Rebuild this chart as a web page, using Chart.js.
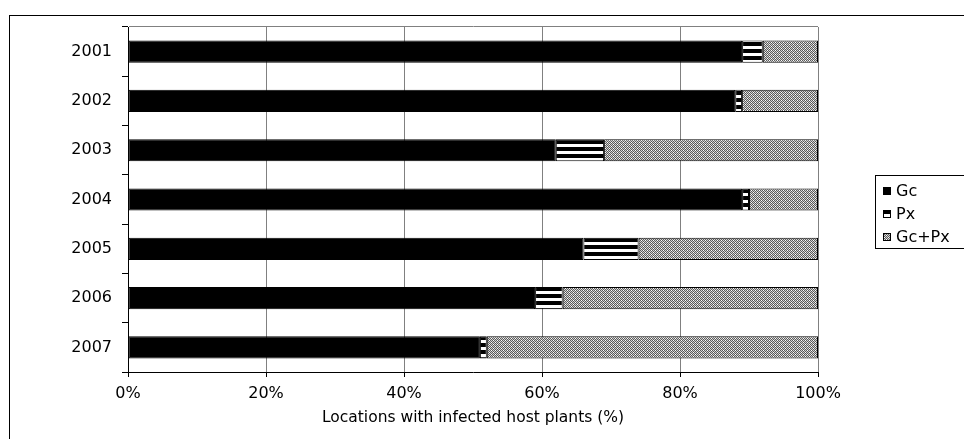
<!DOCTYPE html>
<html>
<head>
<meta charset="utf-8">
<title>Locations with infected host plants</title>
<script src="https://cdn.jsdelivr.net/npm/chart.js@4/dist/chart.umd.min.js"></script>
<style>
	html, body { margin: 0; padding: 0; background: #fff; overflow: hidden; }
	#wrap { position: relative; width: 964px; height: 439px; overflow: hidden; }
	#frame { position: absolute; left: 9px; top: 15px; width: 970px; height: 440px; border-left: 1px solid #000; border-top: 1px solid #000; }
	#chart { position: absolute; left: 0; top: 0; }
	#legend { position: absolute; left: 875px; top: 175px; width: 110px; height: 72px; border: 1px solid #000; background: #fff; margin: 0; padding: 0; list-style: none; }
	#legend li { position: absolute; left: 7px; height: 23px; line-height: 23px; font: 16px "DejaVu Sans", sans-serif; color: #000; white-space: nowrap; }
	#legend canvas { display: inline-block; vertical-align: middle; margin-right: 5px; margin-top: -2px; }
</style>
</head>
<body>
<div id="wrap">
	<div id="frame"></div>
	<canvas id="chart" width="964" height="439"></canvas>
	<ul id="legend"></ul>
</div>
<script>
var years = ['2001', '2002', '2003', '2004', '2005', '2006', '2007'];
var seriesNames = ['Gc', 'Px', 'Gc+Px'];

// share of locations (%) per year
var gcValues = [89, 88, 62, 89, 66, 59, 51];
var pxValues = [3, 1, 7, 1, 8, 4, 1];
var bothValues = [8, 11, 31, 10, 26, 37, 48];

var xTicks = [0, 20, 40, 60, 80, 100];

//______ fill patterns

function makePattern(w, h, paint) {
	var c = document.createElement('canvas');
	c.width = w;
	c.height = h;
	paint(c.getContext('2d'));
	return c.getContext('2d').createPattern(c, 'repeat');
}

var solidFill = '#000';

// wide horizontal stripes
var stripeFill = makePattern(1, 7, function(ctx) {
	ctx.fillStyle = '#000';
	ctx.fillRect(0, 0, 1, 7);
	ctx.fillStyle = '#fff';
	ctx.fillRect(0, 4, 1, 3);
});

// fine checker, reads as mid grey
var checkFill = makePattern(4, 4, function(ctx) {
	ctx.fillStyle = '#d2d2d2';
	ctx.fillRect(0, 0, 4, 4);
	ctx.fillStyle = '#5a5a5a';
	ctx.fillRect(0, 0, 1, 1);
	ctx.fillRect(2, 0, 1, 1);
	ctx.fillRect(1, 1, 1, 1);
	ctx.fillRect(3, 1, 1, 1);
	ctx.fillRect(0, 2, 1, 1);
	ctx.fillRect(2, 2, 1, 1);
	ctx.fillRect(1, 3, 1, 1);
	ctx.fillRect(3, 3, 1, 1);
	ctx.fillStyle = '#fff';
	ctx.fillRect(1, 0, 1, 1);
	ctx.fillRect(3, 2, 1, 1);
});

var fills = [solidFill, stripeFill, checkFill];
var values = [gcValues, pxValues, bothValues];

var datasets = seriesNames.map(function(name, i) {
	return {
		label: name,
		data: values[i],
		backgroundColor: fills[i],
		borderColor: '#000',
		borderWidth: 1,
		borderSkipped: false,
		barPercentage: 0.45,
		categoryPercentage: 1
	};
});

Chart.defaults.font.family = '"DejaVu Sans", sans-serif';
Chart.defaults.font.size = 16;
Chart.defaults.color = '#000';

var chart = new Chart(document.getElementById('chart'), {
	type: 'bar',
	data: { labels: years, datasets: datasets },
	options: {
		indexAxis: 'y',
		responsive: false,
		animation: false,
		devicePixelRatio: 1,
		layout: { padding: { left: 0, right: 146, top: 27, bottom: 8 } },
		plugins: {
			legend: { display: false },
			tooltip: { enabled: false }
		},
		scales: {
			x: {
				stacked: true,
				min: 0,
				max: 100,
				afterBuildTicks: function(scale) {
					scale.ticks = xTicks.map(function(v) { return { value: v }; });
				},
				afterFit: function(scale) { scale.height = 59; },
				ticks: {
					padding: 7,
					callback: function(v) { return v + '%'; }
				},
				grid: { color: '#808080', tickColor: '#000', tickLength: 5 },
				border: { color: '#000', width: 1 },
				title: {
					display: true,
					text: 'Locations with infected host plants (%)',
					font: { size: 15.5 },
					padding: { top: 0, bottom: 4 }
				}
			},
			y: {
				stacked: true,
				afterFit: function(scale) { scale.width = 128; },
				ticks: { padding: 10 },
				grid: {
					offset: true,
					tickLength: 6,
					tickColor: '#000',
					color: function(ctx) { return ctx.index === 0 ? '#808080' : 'rgba(0,0,0,0)'; }
				},
				border: { color: '#000', width: 1 }
			}
		}
	}
});

//______ legend box

function renderLegend() {
	var container = document.getElementById('legend');

	chart.data.datasets.forEach(function(ds, i) {
		var item = document.createElement('li');
		item.style.top = (5 + i * 23) + 'px';

		var swatch = document.createElement('canvas');
		swatch.width = 8;
		swatch.height = 8;
		var ctx = swatch.getContext('2d');
		ctx.fillStyle = ds.backgroundColor;
		ctx.fillRect(0, 0, 8, 8);
		ctx.strokeStyle = '#000';
		ctx.lineWidth = 1;
		ctx.strokeRect(0.5, 0.5, 7, 7);
		item.appendChild(swatch);

		var text = document.createElement('span');
		text.textContent = ds.label;
		item.appendChild(text);

		container.appendChild(item);
	});
}

renderLegend();
</script>
</body>
</html>
